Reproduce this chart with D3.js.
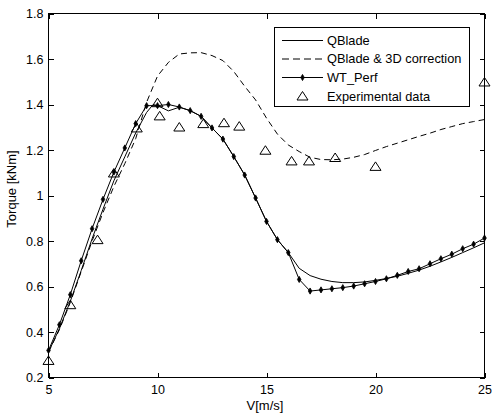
<!DOCTYPE html>
<meta charset="utf-8">
<title>Torque vs wind speed</title>
<style>
  body { margin: 0; background: #fff; }
  svg text { font-family: "Liberation Sans", Arial, sans-serif; fill: #000; }
</style>
<body>
<script src="https://d3js.org/d3.v7.min.js"></script>
<script type="text/javascript">

// wind speed [m/s]
var speedWT = [5, 5.5, 6, 6.5, 7, 7.5, 8, 8.5, 9, 9.5, 10, 10.5, 11, 11.5, 12, 12.5, 13, 13.5, 14, 14.5,
  15, 15.5, 16, 16.5, 17, 17.5, 18, 18.5, 19, 19.5, 20, 20.5, 21, 21.5, 22, 22.5, 23, 23.5, 24, 24.5, 25];
var torqueWT = [0.319, 0.432, 0.564, 0.713, 0.854, 0.983, 1.103, 1.209, 1.316, 1.395, 1.395, 1.400, 1.389,
  1.373, 1.348, 1.297, 1.248, 1.171, 1.090, 0.989, 0.886, 0.806, 0.749, 0.631, 0.580, 0.585, 0.590, 0.595,
  0.602, 0.612, 0.622, 0.634, 0.649, 0.666, 0.678, 0.700, 0.722, 0.742, 0.766, 0.786, 0.813];

var speedQB = [5, 5.5, 6, 6.5, 7, 7.5, 8, 8.5, 9, 9.5, 9.8, 10, 10.5, 11, 11.5, 12, 12.5, 13, 13.5, 14, 14.5,
  15, 15.5, 16, 16.5, 17, 17.5, 18, 18.5, 19, 19.5, 20, 20.5, 21, 21.5, 22, 22.5, 23, 23.5, 24, 24.5, 25];
var torqueQB = [0.312, 0.415, 0.535, 0.670, 0.810, 0.940, 1.065, 1.170, 1.275, 1.365, 1.400, 1.395, 1.372,
  1.388, 1.373, 1.348, 1.297, 1.248, 1.171, 1.090, 0.989, 0.886, 0.806, 0.749, 0.680, 0.648, 0.632, 0.622,
  0.617, 0.617, 0.620, 0.627, 0.635, 0.645, 0.658, 0.672, 0.689, 0.708, 0.728, 0.749, 0.770, 0.792];

var speed3D = [5, 5.5, 6, 6.5, 7, 7.5, 8, 8.5, 9, 9.5, 10, 10.5, 11, 11.5, 12, 12.5, 13, 13.5, 14, 14.5,
  15, 15.5, 16, 16.5, 17, 17.5, 18, 18.5, 19, 19.5, 20, 20.5, 21, 21.5, 22, 22.5, 23, 23.5, 24, 24.5, 25];
var torque3D = [0.312, 0.410, 0.530, 0.665, 0.800, 0.925, 1.040, 1.140, 1.250, 1.410, 1.525, 1.585, 1.622,
  1.627, 1.628, 1.615, 1.593, 1.545, 1.480, 1.420, 1.340, 1.270, 1.222, 1.193, 1.168, 1.158, 1.157, 1.160,
  1.168, 1.180, 1.198, 1.215, 1.230, 1.245, 1.260, 1.274, 1.290, 1.303, 1.316, 1.325, 1.334];

var speedExp = [5, 6, 7.25, 8, 9.05, 10, 10.1, 11, 12.1, 13.05, 13.75, 14.95, 16.15, 16.95, 18.15, 20, 25];
var torqueExp = [0.275, 0.52, 0.806, 1.099, 1.297, 1.408, 1.35, 1.301, 1.316, 1.32, 1.305, 1.199, 1.152,
  1.152, 1.167, 1.128, 1.499];

var xTicks = [5, 10, 15, 20, 25];
var yTicks = [0.2, 0.4, 0.6, 0.8, 1, 1.2, 1.4, 1.6, 1.8];

var legendLabels = ["QBlade", "QBlade & 3D correction", "WT_Perf", "Experimental data"];

var width = 497, height = 418;
var plotL = 48.5, plotR = 484.5, plotT = 13.5, plotB = 377.5;

var svg = d3.select("body").append("svg")
  .attr("width", width)
  .attr("height", height);

var x = d3.scaleLinear().domain([5, 25]).range([plotL, plotR]);
var y = d3.scaleLinear().domain([0.2, 1.8]).range([plotB, plotT]);

// axes, MATLAB style: ticks inside, box on
function axisStyle(g) {
  g.select(".domain").remove();
  g.selectAll("line").attr("stroke", "#000").attr("shape-rendering", "crispEdges");
  g.selectAll("text").style("font-size", "12.5px");
}
svg.append("g").attr("transform", "translate(0," + plotB + ")")
  .call(d3.axisBottom(x).tickValues(xTicks).tickSizeInner(-5).tickPadding(8).tickFormat(d3.format("d")))
  .call(axisStyle);
svg.append("g").attr("transform", "translate(0," + plotT + ")")
  .call(d3.axisTop(x).tickValues(xTicks).tickSizeInner(-5).tickFormat(""))
  .call(axisStyle);
svg.append("g").attr("transform", "translate(" + plotL + ",0)")
  .call(d3.axisLeft(y).tickValues(yTicks).tickSizeInner(-5).tickPadding(5).tickFormat(d3.format("~g")))
  .call(axisStyle);
svg.append("g").attr("transform", "translate(" + plotR + ",0)")
  .call(d3.axisRight(y).tickValues(yTicks).tickSizeInner(-5).tickFormat(""))
  .call(axisStyle);

svg.append("rect")
  .attr("x", plotL).attr("y", plotT)
  .attr("width", plotR - plotL).attr("height", plotB - plotT)
  .attr("fill", "none").attr("stroke", "#000").attr("shape-rendering", "crispEdges");

var line = d3.line().x(function(d) { return x(d[0]); }).y(function(d) { return y(d[1]); });

var qb = d3.zip(speedQB, torqueQB);
var d3c = d3.zip(speed3D, torque3D);
var wt = d3.zip(speedWT, torqueWT);
var ex = d3.zip(speedExp, torqueExp);

svg.append("path").datum(d3c).attr("d", line)
  .attr("fill", "none").attr("stroke", "#000").attr("stroke-dasharray", "6,4");
svg.append("path").datum(qb).attr("d", line)
  .attr("fill", "none").attr("stroke", "#000");
svg.append("path").datum(wt).attr("d", line)
  .attr("fill", "none").attr("stroke", "#000");

var dot = d3.symbol().type(d3.symbolDiamond).size(11);
svg.selectAll(".wt").data(wt).enter().append("path")
  .attr("class", "wt")
  .attr("d", dot)
  .attr("transform", function(d) { return "translate(" + x(d[0]) + "," + y(d[1]) + ")"; })
  .attr("fill", "#000").attr("stroke", "#000").attr("stroke-width", 0.8);

function tri(cx, cy) {
  return "M" + cx + "," + (cy - 4.5) + "L" + (cx + 5.5) + "," + (cy + 4) + "L" + (cx - 5.5) + "," + (cy + 4) + "Z";
}
svg.selectAll(".exp").data(ex).enter().append("path")
  .attr("class", "exp")
  .attr("d", function(d) { return tri(x(d[0]), y(d[1])); })
  .attr("fill", "none").attr("stroke", "#000");

// legend
var lg = svg.append("g");
lg.append("rect").attr("x", 274.5).attr("y", 27.5).attr("width", 195).attr("height", 79)
  .attr("fill", "#fff").attr("stroke", "#000").attr("shape-rendering", "crispEdges");
var rowY = [40, 58.5, 77, 96];
legendLabels.forEach(function(lab, i) {
  if (i < 3) {
    lg.append("line").attr("x1", 282).attr("x2", 323).attr("y1", rowY[i] + 0.5).attr("y2", rowY[i] + 0.5)
      .attr("stroke", "#000").attr("stroke-dasharray", i === 1 ? "7,4" : null);
  }
  if (i === 2) {
    lg.append("path").attr("d", dot).attr("transform", "translate(302.5," + (rowY[i] + 0.5) + ")")
      .attr("fill", "#000").attr("stroke", "#000").attr("stroke-width", 0.8);
  }
  if (i === 3) {
    lg.append("path").attr("d", tri(302.5, rowY[i])).attr("fill", "none").attr("stroke", "#000");
  }
  lg.append("text").attr("x", 327).attr("y", rowY[i]).attr("dy", "0.36em")
    .style("font-size", "12.8px").text(lab);
});

// axis labels
svg.append("text")
  .attr("x", 265).attr("y", 410)
  .attr("text-anchor", "middle")
  .style("font-size", "13px")
  .text("V[m/s]");
svg.append("text")
  .attr("transform", "translate(16,189) rotate(-90)")
  .attr("text-anchor", "middle")
  .style("font-size", "13px")
  .text("Torque [kNm]");

</script>
</body>
